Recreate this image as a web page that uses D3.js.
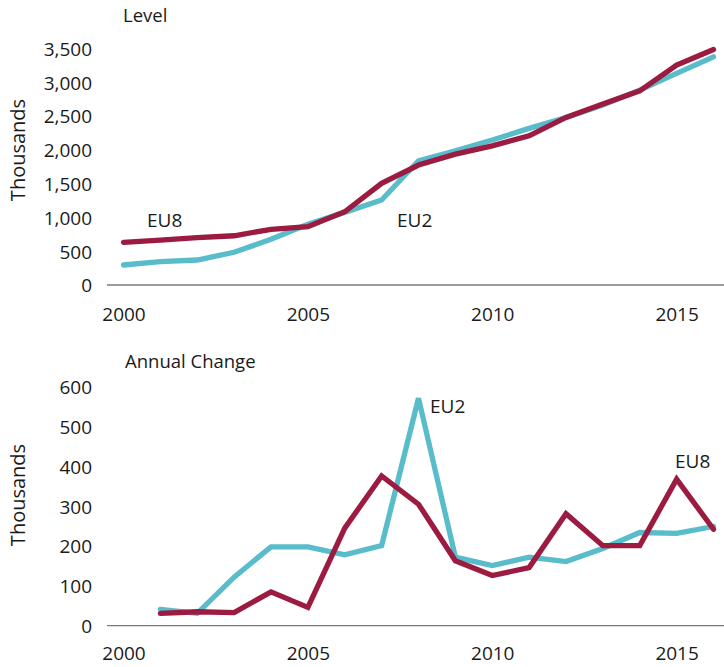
<!DOCTYPE html>
<html>
<head>
<meta charset="utf-8">
<script src="https://cdn.jsdelivr.net/npm/d3@7"></script>
<style>
  html, body { margin: 0; padding: 0; background: #fff; }
  svg { display: block; }
  text { font-family: "Open Sans", sans-serif; fill: #1a1a1a; }
</style>
</head>
<body>
<script>
// ---- Data ----
const years = [2000,2001,2002,2003,2004,2005,2006,2007,2008,2009,2010,2011,2012,2013,2014,2015,2016];
const levelEU8 = [630,665,700,729,824,862,1084,1504,1775,1937,2060,2208,2480,2677,2874,3254,3486];
const levelEU2 = [296,345,370,484,676,898,1075,1257,1838,1986,2145,2318,2480,2662,2884,3131,3377];
const changeYears = [2001,2002,2003,2004,2005,2006,2007,2008,2009,2010,2011,2012,2013,2014,2015,2016];
const changeEU8 = [31,35,33,85,46,245,376,305,163,126,146,281,201,201,368,242];
const changeEU2 = [41,31,122,198,198,178,201,571,172,151,172,161,194,234,232,249];
const xTicks = [2000,2005,2010,2015];
const levelTicks = [0,500,1000,1500,2000,2500,3000,3500];
const changeTicks = [0,100,200,300,400,500,600];

const W = 724, H = 667;
const RED = "#9c1b40", CYAN = "#58bccb";

const svg = d3.select("body").append("svg").attr("width", W).attr("height", H);

const x = d3.scaleLinear().domain([2000, 2016]).range([123.5, 713.5]);

function panel(opts) {
  const g = svg.append("g");
  const y = d3.scaleLinear().domain(opts.yDomain).range(opts.yRange);

  // axis baseline
  g.append("line")
    .attr("x1", 107).attr("x2", W)
    .attr("y1", y(0)).attr("y2", y(0))
    .attr("stroke", "#7a7a7a").attr("stroke-width", 1.3);

  // y ticks
  const yAxis = d3.axisLeft(y).tickValues(opts.yTicks).tickSize(0).tickPadding(0)
    .tickFormat(d3.format(","));
  const ya = g.append("g").attr("transform", "translate(92,0)").call(yAxis);
  ya.select(".domain").remove();
  ya.selectAll("text").attr("font-size", 19).attr("font-family", "Open Sans, sans-serif")
    .attr("fill", "#1a1a1a").attr("dy", "0.36em");

  // x ticks
  const xAxis = d3.axisBottom(x).tickValues(xTicks).tickSize(0).tickPadding(0)
    .tickFormat(d3.format("d"));
  const xa = g.append("g").attr("transform", `translate(0,${opts.xLabelY})`).call(xAxis);
  xa.select(".domain").remove();
  xa.selectAll("text").attr("font-size", 19).attr("font-family", "Open Sans, sans-serif")
    .attr("fill", "#1a1a1a").attr("dy", "0");

  // y label
  g.append("text")
    .attr("transform", `translate(25,${opts.yLabelY}) rotate(-90)`)
    .attr("text-anchor", "middle").attr("font-size", 20)
    .text("Thousands");

  // title
  g.append("text").attr("x", opts.titleX).attr("y", opts.titleY)
    .attr("font-size", 18.5).text(opts.title);

  const line = d3.line().x(d => x(d[0])).y(d => y(d[1]));
  opts.series.forEach(s => {
    g.append("path")
      .datum(s.xs.map((xv, i) => [xv, s.vals[i]]))
      .attr("fill", "none").attr("stroke", s.color).attr("stroke-width", 5.3)
      .attr("stroke-linejoin", "miter").attr("stroke-linecap", "round")
      .attr("d", line);
  });
  opts.labels.forEach(l => {
    g.append("text").attr("x", l.x).attr("y", l.y).attr("font-size", 19).text(l.t);
  });
}

panel({
  yDomain: [0, 3500], yRange: [285, 48.5], yTicks: levelTicks,
  xLabelY: 321, yLabelY: 150, title: "Level", titleX: 123, titleY: 22,
  series: [
    {xs: years, vals: levelEU2, color: CYAN},
    {xs: years, vals: levelEU8, color: RED}
  ],
  labels: [{t: "EU8", x: 147, y: 227}, {t: "EU2", x: 397, y: 227}]
});

panel({
  yDomain: [0, 600], yRange: [625.7, 386.7], yTicks: changeTicks,
  xLabelY: 660, yLabelY: 495, title: "Annual Change", titleX: 125, titleY: 368,
  series: [
    {xs: changeYears, vals: changeEU2, color: CYAN},
    {xs: changeYears, vals: changeEU8, color: RED}
  ],
  labels: [{t: "EU2", x: 430, y: 413}, {t: "EU8", x: 675, y: 468}]
});
</script>
</body>
</html>
